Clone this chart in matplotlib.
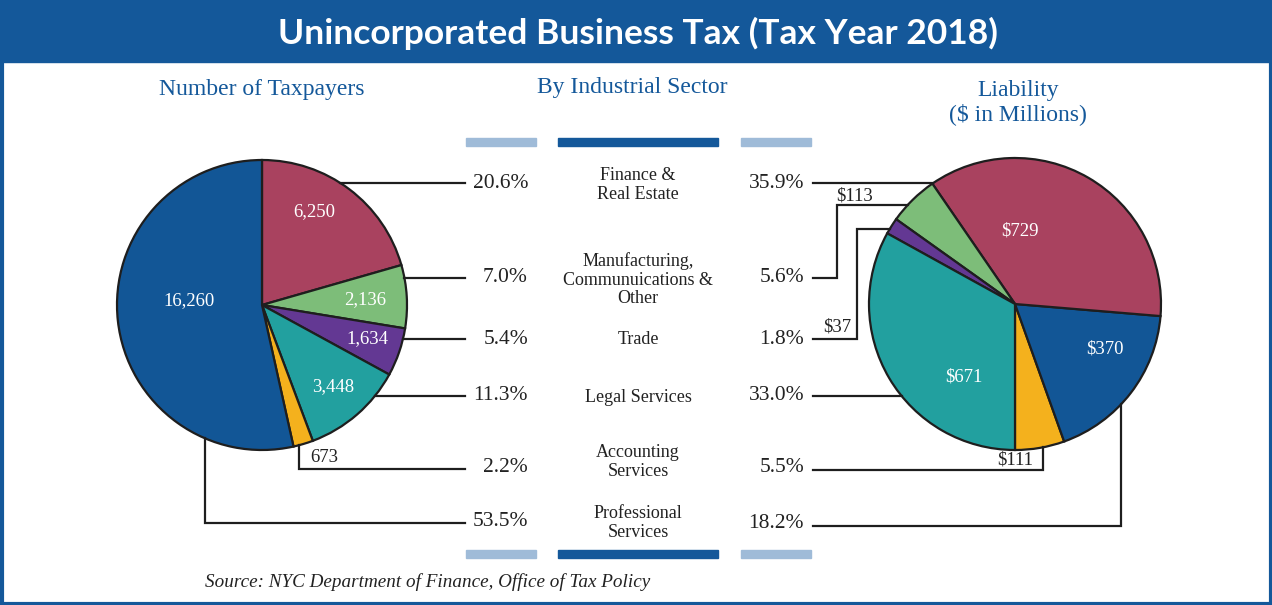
import matplotlib
matplotlib.use("Agg")
import matplotlib.pyplot as plt
from matplotlib.patches import Rectangle
import numpy as np

# data
sectors = ["Finance &\nReal Estate", "Manufacturing,\nCommunuications &\nOther", "Trade",
           "Legal Services", "Accounting\nServices", "Professional\nServices"]
taxpayers = [6250, 2136, 1634, 3448, 673, 16260]
taxpayer_pct = ["20.6%", "7.0%", "5.4%", "11.3%", "2.2%", "53.5%"]
liability = [729, 113, 37, 671, 111, 370]
liability_pct = ["35.9%", "5.6%", "1.8%", "33.0%", "5.5%", "18.2%"]
colors = ["#a9425f", "#7dbd79", "#633893", "#22a09f", "#f4b11d", "#125696"]

W, H = 1272, 605
BLUE = "#14589a"
LIGHT = "#9fbbd8"
SERIF = "Liberation Serif"
INK = "#222222"

fig = plt.figure(figsize=(W / 100, H / 100), dpi=100)
ax = fig.add_axes([0, 0, 1, 1])

# pixel-like coordinates, y pointing down
lcx, lcy, lr = 262, 305, 145
rcx, rcy, rr = 1015, 304, 146

wedge_kw = dict(edgecolor="#1e1e1e", linewidth=1.6)
ax.pie(taxpayers, colors=colors, center=(lcx, lcy), radius=lr, startangle=-90,
       counterclock=True, frame=True, wedgeprops=wedge_kw)
# right pie runs the other way round, starting at the bottom
order = [4, 5, 0, 1, 2, 3]
ax.pie([liability[i] for i in order], colors=[colors[i] for i in order],
       center=(rcx, rcy), radius=rr, startangle=90, counterclock=False,
       frame=True, wedgeprops=wedge_kw)

ax.set_xlim(0, W)
ax.set_ylim(H, 0)
ax.set_aspect("auto")
ax.axis("off")

# title bar + frame
ax.add_patch(Rectangle((0, 0), W, 62, color=BLUE, zorder=5))
ax.add_patch(Rectangle((1.5, 1.5), W - 3, H - 3, fill=False, edgecolor=BLUE, lw=3, zorder=5))
ax.text(638, 33, "Unincorporated Business Tax (Tax Year 2018)", color="white",
        fontsize=25.5, fontweight="bold", family="Lato", ha="center", va="center", zorder=6)

ax.text(262, 90, "Number of Taxpayers", color=BLUE, fontsize=17, family=SERIF,
        ha="center", va="center")
ax.text(632, 88, "By Industrial Sector", color=BLUE, fontsize=17, family=SERIF,
        ha="center", va="center")
ax.text(1018, 103, "Liability\n($ in Millions)", color=BLUE, fontsize=17, family=SERIF,
        ha="center", va="center", linespacing=1.12)

# decorative bars
for yb in (142, 554):
    ax.add_patch(Rectangle((466, yb - 4), 70, 8, color=LIGHT))
    ax.add_patch(Rectangle((558, yb - 4), 160, 8, color=BLUE))
    ax.add_patch(Rectangle((741, yb - 4), 70, 8, color=LIGHT))

# rows
left_rows = [183, 278, 339, 396, 467, 522]
right_rows = [183, 278, 339, 396, 467, 524]
mid_rows = [185, 280, 340, 397, 462, 523]

for i in range(6):
    ax.text(528, left_rows[i], taxpayer_pct[i], fontsize=15.5, family=SERIF,
            ha="right", va="center", color=INK)
    ax.text(804, right_rows[i], liability_pct[i], fontsize=15.5, family=SERIF,
            ha="right", va="center", color=INK)
    ax.text(638, mid_rows[i], sectors[i], fontsize=13, family=SERIF,
            ha="center", va="center", linespacing=1.12, color=INK)

line_kw = dict(color="#1e1e1e", lw=1.6, solid_joinstyle="miter", zorder=1)


def edge_x(cx, cy, r, y, side):
    return cx + side * np.sqrt(r ** 2 - (y - cy) ** 2)


def edge_y(cx, cy, r, x):
    return cy + np.sqrt(r ** 2 - (x - cx) ** 2)


# left leaders
for i in range(4):
    y = left_rows[i]
    ax.plot([edge_x(lcx, lcy, lr, y, 1), 465], [y, y], **line_kw)
ax.plot([299, 299, 465], [edge_y(lcx, lcy, lr, 299), 469, 469], **line_kw)
ax.plot([205, 205, 465], [edge_y(lcx, lcy, lr, 205), 523, 523], **line_kw)

# right leaders
ax.plot([813, edge_x(rcx, rcy, rr, 183, -1)], [183, 183], **line_kw)
ax.plot([813, 837, 837, edge_x(rcx, rcy, rr, 205, -1)], [278, 278, 205, 205], **line_kw)
ax.plot([813, 857, 857, edge_x(rcx, rcy, rr, 229, -1)], [339, 339, 229, 229], **line_kw)
ax.plot([813, edge_x(rcx, rcy, rr, 396, -1)], [396, 396], **line_kw)
ax.plot([813, 1043, 1043], [470, 470, edge_y(rcx, rcy, rr, 1043)], **line_kw)
ax.plot([813, 1121, 1121], [526, 526, edge_y(rcx, rcy, rr, 1121)], **line_kw)

# slice values
lab_kw = dict(fontsize=13.5, family=SERIF, ha="center", va="center")
left_pos = [(314, 212), (365, 300), (367, 339), (333, 387), (324, 458), (189, 301)]
for (x, y), v in zip(left_pos, taxpayers):
    c = INK if v == 673 else "white"
    ax.text(x, y, f"{v:,}", color=c, **lab_kw)
right_pos = [(1020, 231), (855, 196), (837, 327), (964, 377), (1015, 460), (1105, 349)]
for (x, y), v in zip(right_pos, liability):
    c = "white" if v > 300 else INK
    ax.text(x, y, f"${v}", color=c, **lab_kw)

ax.text(205, 582, "Source: NYC Department of Finance, Office of Tax Policy", fontsize=13.8,
        family=SERIF, style="italic", ha="left", va="center", color=INK)

fig.savefig("out.png", dpi=100)
